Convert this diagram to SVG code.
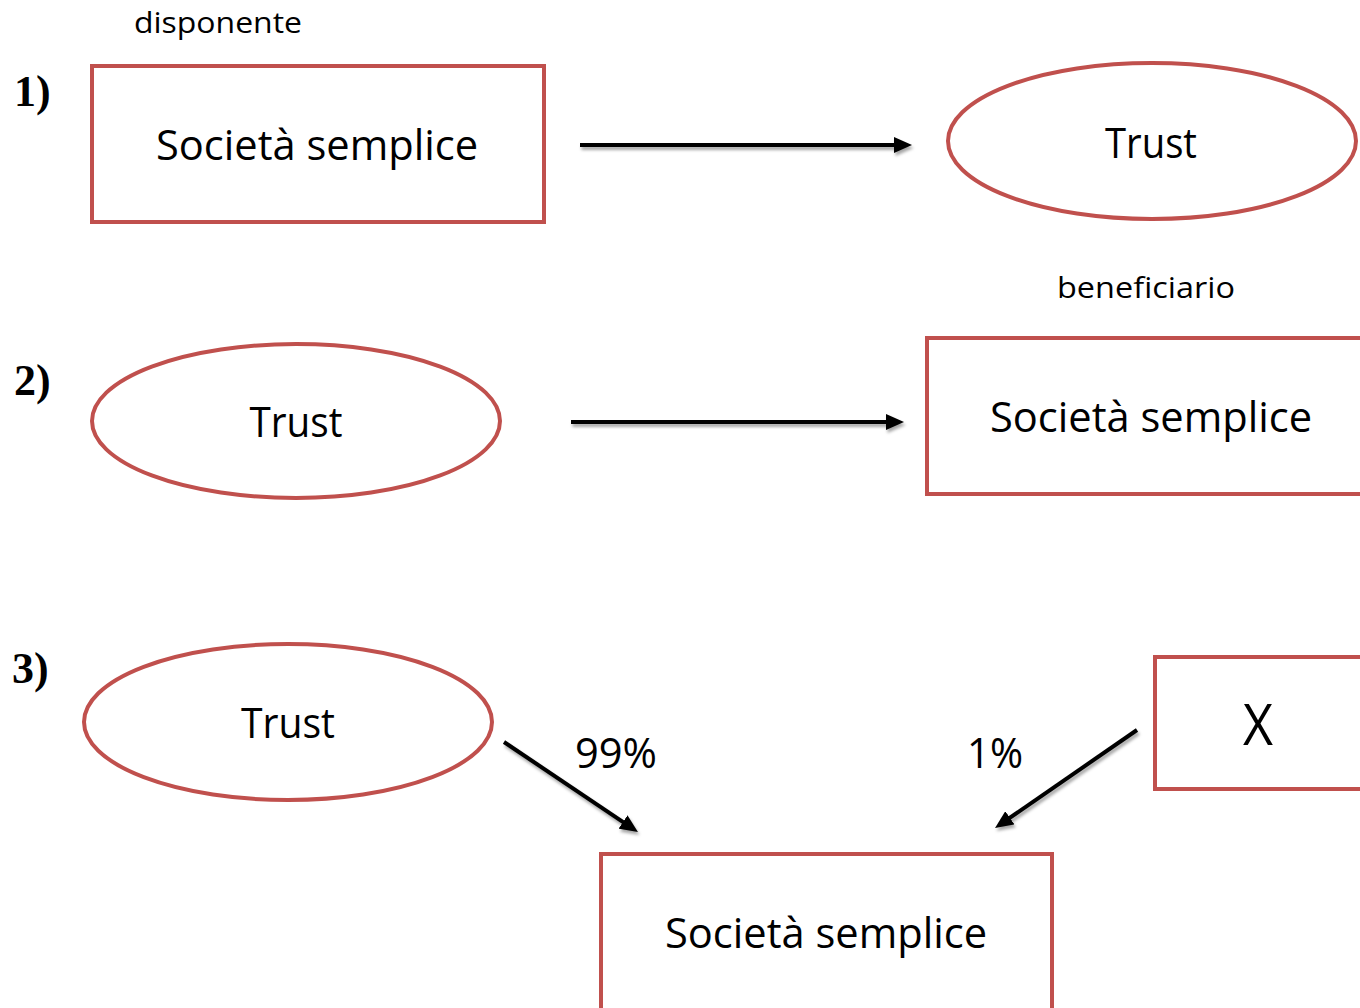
<svg xmlns="http://www.w3.org/2000/svg" width="1360" height="1008" viewBox="0 0 1360 1008">
<style>
.shape{fill:#fff;stroke:#C0504D;stroke-width:4}
.lbl{font-family:"Open Sans","Noto Sans",sans-serif;fill:#000;text-anchor:middle}
.big{font-size:42px}
.small{font-size:29px}
.num{font-family:"Liberation Serif",serif;font-weight:bold;font-size:44px;fill:#000}
.conn{stroke:#000;stroke-width:4;fill:none;marker-end:url(#ah)}
</style>
<defs>
<marker id="ah" markerUnits="userSpaceOnUse" markerWidth="18" markerHeight="16" refX="6" refY="8" orient="auto" viewBox="0 0 18 16">
<path d="M0,0 L18,8 L0,16 z" fill="#000"/>
</marker>
<filter id="sh" filterUnits="userSpaceOnUse" x="0" y="0" width="1360" height="1008">
<feDropShadow dx="1.5" dy="3" stdDeviation="1.5" flood-color="#000" flood-opacity="0.35"/>
</filter>
</defs>
<rect width="1360" height="1008" fill="#fff"/>
<g id="labels">
<text class="num" x="14" y="106">1)</text>
<text class="num" x="14" y="395">2)</text>
<text class="num" x="12" y="683">3)</text>
<text class="lbl small" x="218" y="33" textLength="168" lengthAdjust="spacingAndGlyphs">disponente</text>
<text class="lbl small" x="1146" y="298" textLength="178" lengthAdjust="spacingAndGlyphs">beneficiario</text>
<text class="lbl big" x="616" y="768" textLength="82" lengthAdjust="spacingAndGlyphs">99%</text>
<text class="lbl big" x="995" y="768" textLength="56" lengthAdjust="spacingAndGlyphs">1%</text>
</g>
<g id="node-ss1">
<rect class="shape" x="92" y="66" width="452" height="156"/>
<text class="lbl big" x="317" y="160" textLength="322" lengthAdjust="spacingAndGlyphs">Società semplice</text>
</g>
<g id="node-trust1">
<ellipse class="shape" cx="1152" cy="141" rx="204" ry="78"/>
<text class="lbl big" x="1151" y="158" textLength="92" lengthAdjust="spacingAndGlyphs">Trust</text>
</g>
<g id="node-trust2">
<ellipse class="shape" cx="296" cy="421" rx="204" ry="77"/>
<text class="lbl big" x="296" y="437" textLength="93" lengthAdjust="spacingAndGlyphs">Trust</text>
</g>
<g id="node-ss2">
<rect class="shape" x="927" y="338" width="450" height="156"/>
<text class="lbl big" x="1151" y="432" textLength="322" lengthAdjust="spacingAndGlyphs">Società semplice</text>
</g>
<g id="node-trust3">
<ellipse class="shape" cx="288" cy="722" rx="204" ry="78"/>
<text class="lbl big" x="288" y="738" textLength="94" lengthAdjust="spacingAndGlyphs">Trust</text>
</g>
<g id="node-x">
<rect class="shape" x="1155" y="657" width="220" height="132"/>
<text class="lbl" x="1258" y="745" font-size="57" textLength="30" lengthAdjust="spacingAndGlyphs">X</text>
</g>
<g id="node-ss3">
<rect class="shape" x="601" y="854" width="451" height="170"/>
<text class="lbl big" x="826" y="948" textLength="322" lengthAdjust="spacingAndGlyphs">Società semplice</text>
</g>
<g id="connectors" filter="url(#sh)">
<line class="conn" x1="580" y1="145" x2="900" y2="145"/>
<line class="conn" x1="571" y1="422" x2="892" y2="422"/>
<line class="conn" x1="504" y1="742" x2="628" y2="825.3"/>
<line class="conn" x1="1137" y1="730" x2="1004.9" y2="821.2"/>
</g>
</svg>
